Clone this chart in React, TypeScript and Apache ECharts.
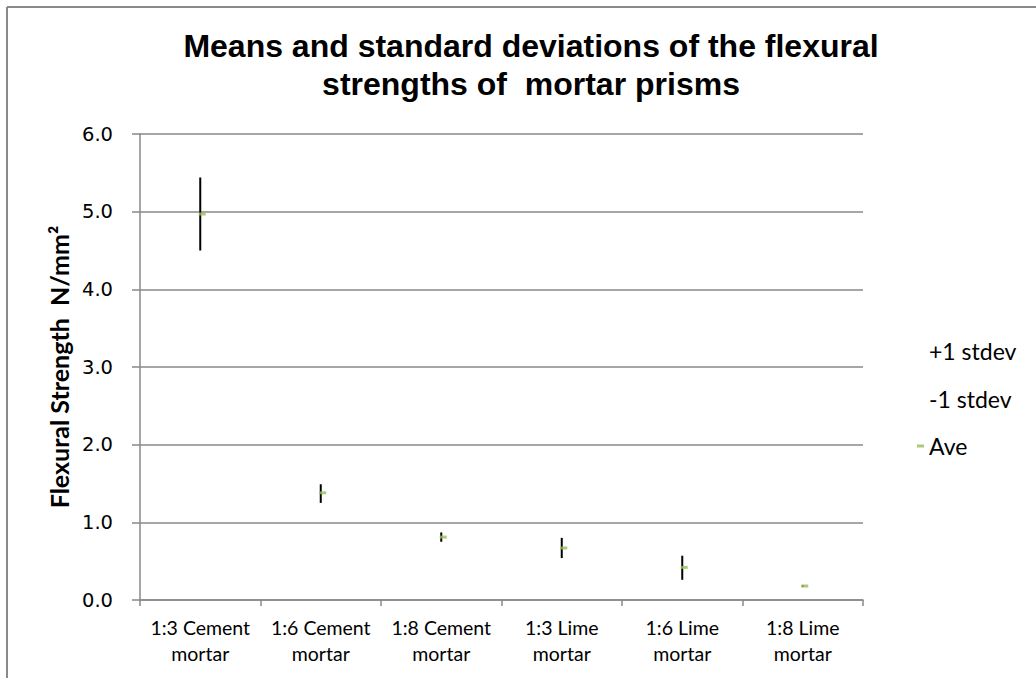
import React, { useEffect, useRef } from "react";
import * as echarts from "echarts";

const categories = [
  "1:3 Cement\nmortar",
  "1:6 Cement\nmortar",
  "1:8 Cement\nmortar",
  "1:3 Lime\nmortar",
  "1:6 Lime\nmortar",
  "1:8 Lime\nmortar",
];
const aveValues = [4.97, 1.38, 0.81, 0.67, 0.42, 0.18];
const plusOneStdev = [5.44, 1.49, 0.87, 0.8, 0.57, 0.19];
const minusOneStdev = [4.5, 1.25, 0.75, 0.54, 0.26, 0.17];
const yTicks = { min: 0, max: 6, interval: 1 };

const FONT = "Lato, 'Open Sans', sans-serif";
const GRID_COLOR = "#898989";

function barRender(params: any, api: any) {
  const i = api.value(0);
  const a = api.coord([i, api.value(1)]);
  const b = api.coord([i, api.value(2)]);
  return {
    type: "line",
    shape: { x1: a[0], y1: a[1], x2: b[0], y2: b[1] },
    style: { stroke: "#000000", lineWidth: 2 },
  };
}

export default function App() {
  const ref = useRef<HTMLDivElement>(null);
  useEffect(() => {
    if (!ref.current) return;
    const chart = echarts.init(ref.current, null, { renderer: "svg" });
    chart.setOption({
      animation: false,
      backgroundColor: "#ffffff",
      title: {
        text: "Means and standard deviations of the flexural\nstrengths of  mortar prisms",
        left: 531,
        top: 27,
        textAlign: "center",
        padding: 0,
        textStyle: {
          fontFamily: "'Liberation Sans', Arial, sans-serif",
          fontWeight: "bold",
          fontSize: 32,
          lineHeight: 38,
          color: "#000",
        },
      },
      legend: {
        orient: "vertical",
        left: 912,
        top: 334,
        itemWidth: 7,
        itemHeight: 3,
        itemGap: 23.5,
        textStyle: {
          fontFamily: FONT,
          fontSize: 23,
          lineHeight: 24,
          color: "#000",
        },
        data: [
          { name: "+1 stdev", icon: "rect", itemStyle: { color: "rgba(0,0,0,0)", opacity: 0 } },
          { name: "-1 stdev", icon: "rect", itemStyle: { color: "rgba(0,0,0,0)", opacity: 0 } },
          { name: "Ave", icon: "rect" },
        ],
      },
      grid: { left: 140, right: 173, top: 134, bottom: 78, containLabel: false },
      xAxis: {
        type: "category",
        data: categories,
        boundaryGap: true,
        axisLine: { lineStyle: { color: GRID_COLOR, width: 1.5 } },
        axisTick: { show: true, length: 6, lineStyle: { color: GRID_COLOR, width: 1.5 } },
        axisLabel: {
          interval: 0,
          margin: 14,
          fontFamily: FONT,
          fontSize: 19.5,
          lineHeight: 26,
          color: "#000",
        },
      },
      yAxis: {
        type: "value",
        min: yTicks.min,
        max: yTicks.max,
        interval: yTicks.interval,
        name: "Flexural Strength  N/mm²",
        nameLocation: "middle",
        nameGap: 42,
        nameTextStyle: {
          fontFamily: FONT,
          fontWeight: "bold",
          fontSize: 25,
          color: "#000",
        },
        axisLine: { show: true, lineStyle: { color: GRID_COLOR, width: 1.5 } },
        axisTick: { show: true, length: 8, lineStyle: { color: GRID_COLOR, width: 1.5 } },
        splitLine: { show: true, lineStyle: { color: GRID_COLOR, width: 1.5 } },
        axisLabel: {
          margin: 27,
          fontFamily: "'DejaVu Sans', sans-serif",
          fontSize: 19.5,
          color: "#000",
          formatter: (v: number) => v.toFixed(1),
        },
      },
      graphic: [
        { type: "line", shape: { x1: 7, y1: 7, x2: 1036, y2: 7 }, style: { stroke: "#8a8a8a", lineWidth: 2 } },
        { type: "line", shape: { x1: 7, y1: 7, x2: 7, y2: 678 }, style: { stroke: "#8a8a8a", lineWidth: 2 } },
      ],
      series: [
        {
          name: "+1 stdev",
          type: "custom",
          renderItem: barRender,
          encode: { x: 0, y: [1, 2] },
          data: categories.map((c, i) => [i, aveValues[i], plusOneStdev[i]]),
          itemStyle: { color: "#000" },
          z: 2,
        },
        {
          name: "-1 stdev",
          type: "custom",
          renderItem: barRender,
          encode: { x: 0, y: [1, 2] },
          data: categories.map((c, i) => [i, aveValues[i], minusOneStdev[i]]),
          itemStyle: { color: "#000" },
          z: 2,
        },
        {
          name: "Ave",
          type: "scatter",
          data: aveValues,
          symbol: "rect",
          symbolSize: [7, 3],
          symbolOffset: [2, 0],
          itemStyle: { color: "#9BBB59" },
          z: 3,
        },
      ],
    });
    return () => chart.dispose();
  }, []);
  return (
    <div
      ref={ref}
      style={{ position: "absolute", left: 0, top: 0, width: 1036, height: 678 }}
    />
  );
}
